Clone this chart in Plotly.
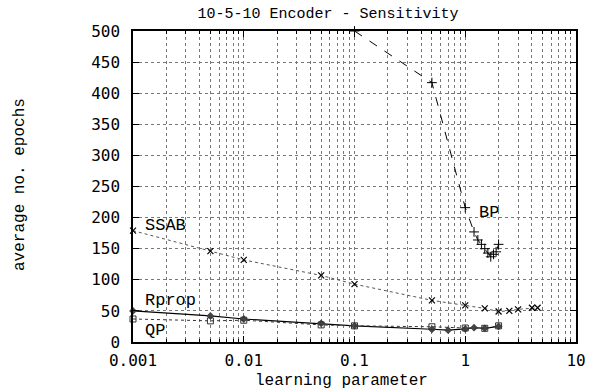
import math
import plotly.graph_objects as go

bp_x = [0.1, 0.5, 1.0, 1.2, 1.3, 1.4, 1.5, 1.6, 1.7, 1.8, 1.9, 2.0]
bp_y = [500, 417, 216, 177, 164, 157, 150, 143, 137, 141, 145, 157]

ssab_x = [0.001, 0.005, 0.01, 0.05, 0.1, 0.5, 1.0, 1.5, 2.0, 2.5, 3.0, 4.0, 4.5]
ssab_y = [179, 146, 132, 107, 93, 67, 59, 54, 49, 50, 52.5, 55, 55]

rprop_x = [0.001, 0.005, 0.01, 0.05, 0.1, 0.5, 0.7, 1.0, 1.2, 1.5, 2.0]
rprop_y = [50, 42, 37, 30, 26, 20.5, 19, 21, 23, 22, 25]

qp_x = [0.001, 0.005, 0.01, 0.05, 0.1, 0.5, 1.0, 1.5, 2.0]
qp_y = [37, 34, 35, 27.5, 26, 24.5, 22.5, 22, 26]

labels = ["SSAB", "BP", "Rprop", "QP"]
label_x = [0.00123, 1.27, 0.00123, 0.00123]
label_y = [188, 208, 67, 18]

x_ticks = [0.001, 0.01, 0.1, 1, 10]
x_tick_text = ["0.001", "0.01", "0.1", "1", "10"]
y_ticks = [0, 50, 100, 150, 200, 250, 300, 350, 400, 450, 500]

MONO = "Liberation Mono"
TICKF = "DejaVu Sans Mono"

fig = go.Figure()
fig.add_trace(go.Scatter(x=bp_x, y=bp_y, mode="lines+markers",
                         line=dict(color="black", width=1, dash="dash"),
                         marker=dict(symbol="cross-thin", size=7, line=dict(color="black", width=1)),
                         cliponaxis=False, showlegend=False))
fig.add_trace(go.Scatter(x=ssab_x, y=ssab_y, mode="lines+markers",
                         line=dict(color="#555", width=1, dash="dot"),
                         marker=dict(symbol="x-thin", size=6, line=dict(color="black", width=1.2)),
                         cliponaxis=False, showlegend=False))
fig.add_trace(go.Scatter(x=rprop_x, y=rprop_y, mode="lines+markers",
                         line=dict(color="black", width=1.2),
                         marker=dict(symbol="diamond", size=6, color="#444"),
                         cliponaxis=False, showlegend=False))
fig.add_trace(go.Scatter(x=qp_x, y=qp_y, mode="lines+markers",
                         line=dict(color="#333", width=1, dash="dot"),
                         marker=dict(symbol="square-open", size=6, color="#333", line=dict(width=1)),
                         cliponaxis=False, showlegend=False))

for t, lx, ly in zip(labels, label_x, label_y):
    fig.add_annotation(x=math.log10(lx), y=ly, xref="x", yref="y", text=t, showarrow=False,
                       xanchor="left", yanchor="middle",
                       font=dict(family=MONO, size=17, color="black"))

fig.add_annotation(x=0.47, y=-0.125, xref="paper", yref="paper", text="learning parameter",
                   showarrow=False, xanchor="center", yanchor="middle",
                   font=dict(family=MONO, size=16, color="black"))
fig.add_annotation(x=-0.255, y=0.505, xref="paper", yref="paper", text="average no. epochs",
                   showarrow=False, xanchor="center", yanchor="middle", textangle=-90,
                   font=dict(family=MONO, size=16, color="black"))

fig.update_layout(
    width=598, height=390,
    margin=dict(l=133, r=22, t=31, b=48),
    paper_bgcolor="white", plot_bgcolor="white",
    font=dict(family=TICKF, size=16, color="black"),
    title=dict(text="10-5-10 Encoder - Sensitivity", x=328 / 598, xanchor="center",
               y=1 - 13 / 390, yanchor="middle",
               font=dict(family=MONO, size=15, color="black")),
)
fig.update_xaxes(type="log", range=[-3, 1], tickvals=x_ticks, ticktext=x_tick_text,
                 automargin=False, ticklabelstandoff=3,
                 showline=True, linecolor="black", linewidth=1.5, mirror="ticks",
                 ticks="inside", ticklen=6, tickcolor="black",
                 showgrid=True, gridcolor="#777", griddash="dot", gridwidth=1,
                 minor=dict(dtick="D1", ticks="inside", ticklen=3, tickcolor="black",
                            showgrid=True, gridcolor="#777", griddash="dot", gridwidth=1),
                 zeroline=False)
fig.update_yaxes(range=[0, 500], tickvals=y_ticks, automargin=False,
                 ticklabelstandoff=8,
                 showline=True, linecolor="black", linewidth=1.5, mirror="ticks",
                 ticks="inside", ticklen=6, tickcolor="black",
                 showgrid=True, gridcolor="#777", griddash="dot", gridwidth=1,
                 zeroline=False)

fig.write_html("out.html", config={"displayModeBar": False},
               post_script="document.body.style.margin='0px';document.body.style.overflow='hidden';")
